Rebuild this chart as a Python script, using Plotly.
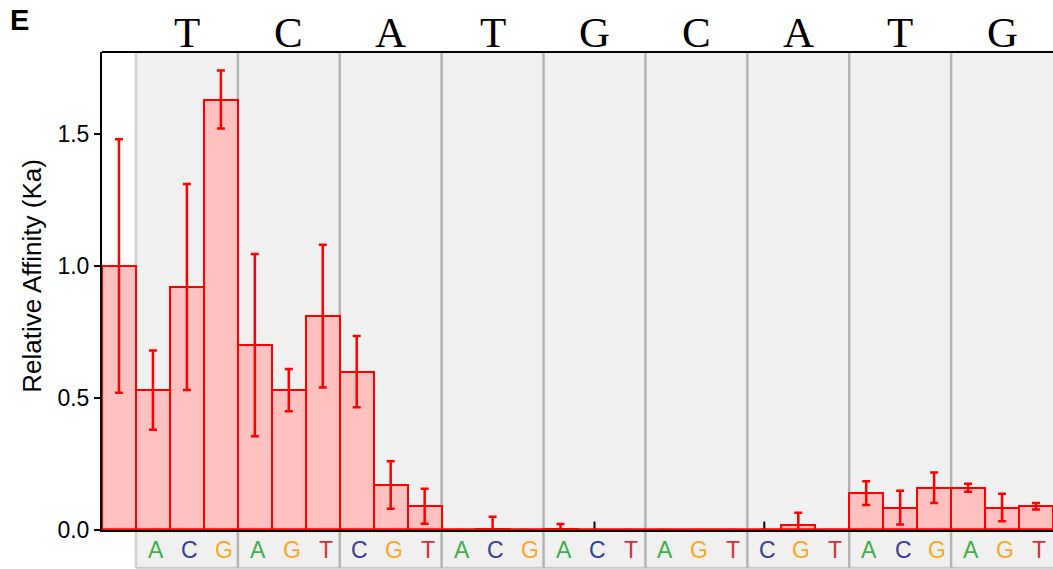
import plotly.graph_objects as go

# Wild-type sequence positions and the three substitutions tested at each
wt_bases = ["T", "C", "A", "T", "G", "C", "A", "T", "G"]
sub_bases = [
    ["A", "C", "G"], ["A", "G", "T"], ["C", "G", "T"],
    ["A", "C", "G"], ["A", "C", "T"], ["A", "G", "T"],
    ["C", "G", "T"], ["A", "C", "G"], ["A", "G", "T"],
]

# Relative affinity (Ka): wild type first, then each substitution in order
affinity = [1.00,
            0.53, 0.92, 1.63,
            0.70, 0.53, 0.81,
            0.60, 0.17, 0.09,
            0.00, 0.005, 0.00,
            0.003, 0.00, 0.00,
            0.00, 0.00, 0.00,
            0.00, 0.02, 0.00,
            0.14, 0.085, 0.16,
            0.16, 0.085, 0.09]
affinity_err = [0.48,
                0.15, 0.39, 0.11,
                0.345, 0.08, 0.27,
                0.135, 0.09, 0.066,
                0.00, 0.045, 0.00,
                0.02, 0.00, 0.00,
                0.00, 0.00, 0.00,
                0.00, 0.045, 0.00,
                0.045, 0.064, 0.058,
                0.015, 0.052, 0.012]
# Substitutions whose affinity could not be determined
not_determined = [14, 19]

base_colors = {"A": "#3fae49", "C": "#343f98", "G": "#f7a823", "T": "#d3303a"}

n_bars = len(affinity)
x_pos = list(range(n_bars))
y_max = 1.81

fig = go.Figure()

fig.add_trace(go.Bar(
    x=x_pos, y=affinity, width=1.0,
    marker=dict(color="#ffc0c0", line=dict(color="#ff0000", width=2)),
    error_y=dict(type="data", array=affinity_err, visible=True,
                 color="#ff0000", thickness=2.5, width=4),
    showlegend=False, hoverinfo="skip",
))

# Small black ticks marking undetermined values
nd_x, nd_y = [], []
for i in not_determined:
    nd_x += [i, i, None]
    nd_y += [0, 0.032, None]
fig.add_trace(go.Scatter(x=nd_x, y=nd_y, mode="lines",
                         line=dict(color="black", width=2),
                         showlegend=False, hoverinfo="skip"))

shapes = []
bottom_ext = -0.079
# Grey panel behind the substitution groups, extending under the letters
shapes.append(dict(type="rect", xref="x", yref="paper",
                   x0=0.5, x1=n_bars - 0.5, y0=bottom_ext, y1=1,
                   fillcolor="#f0f0f0", line=dict(width=0), layer="below"))
shapes.append(dict(type="line", xref="x", yref="paper",
                   x0=0.5, x1=n_bars - 0.5, y0=bottom_ext, y1=bottom_ext,
                   line=dict(color="#c8c8c8", width=2), layer="below"))
for g in range(len(wt_bases)):
    xb = 0.5 + 3 * g
    shapes.append(dict(type="line", xref="x", yref="paper",
                       x0=xb, x1=xb, y0=bottom_ext, y1=1,
                       line=dict(color="#d0d0d0" if g == 0 else "#b4b4b4", width=2.5),
                       layer="below"))
# Red baseline along the bar bottoms
shapes.append(dict(type="line", xref="x", yref="y",
                   x0=-0.5, x1=n_bars - 0.5, y0=0.003, y1=0.003,
                   line=dict(color="#ff0000", width=2), layer="above"))

annotations = []
for g, base in enumerate(wt_bases):
    annotations.append(dict(
        x=2 + 3 * g, y=1.0418, xref="x", yref="paper", text=base,
        showarrow=False, xanchor="center", yanchor="middle",
        font=dict(family="Liberation Serif, serif", size=43, color="black")))
    for k, sb in enumerate(sub_bases[g]):
        annotations.append(dict(
            x=1 + 3 * g + k, y=-0.041, xref="x", yref="paper", text=sb,
            showarrow=False, xanchor="center", yanchor="middle", xshift=3,
            font=dict(family="Arial, Liberation Sans, sans-serif", size=23,
                      color=base_colors[sb])))
annotations.append(dict(
    x=-0.099, y=1.066, xref="paper", yref="paper", text="<b>E</b>",
    showarrow=False, xanchor="left", yanchor="middle",
    font=dict(family="Arial, Liberation Sans, sans-serif", size=29, color="black")))
# Y-axis title
annotations.append(dict(
    x=-0.073, y=0.531, xref="paper", yref="paper", text="Relative Affinity (Ka)",
    showarrow=False, xanchor="center", yanchor="middle", textangle=-90,
    font=dict(family="Arial, Liberation Sans, sans-serif", size=26, color="black")))

fig.update_layout(
    width=1053, height=569,
    margin=dict(l=102, r=0, t=52, b=39),
    paper_bgcolor="white", plot_bgcolor="rgba(0,0,0,0)",
    shapes=shapes, annotations=annotations,
    bargap=0,
    font=dict(family="Arial, Liberation Sans, sans-serif", color="black"),
    xaxis=dict(range=[-0.5, n_bars - 0.5], showgrid=False, zeroline=False,
               showticklabels=False, ticks="", showline=True,
               linecolor="black", linewidth=2, mirror=False),
    yaxis=dict(range=[0, y_max], showgrid=False, zeroline=False,
               tickvals=[0, 0.5, 1.0, 1.5], ticktext=["0.0", "0.5", "1.0", "1.5"],
               ticks="outside", ticklen=6, tickwidth=2, tickcolor="black",
               tickfont=dict(size=23, color="black"),
               showline=True, linecolor="black", linewidth=2),
)
# Top frame line
fig.add_shape(type="line", xref="paper", yref="paper", x0=0, x1=1, y0=1, y1=1,
              line=dict(color="black", width=2))

fig.write_html("out.html")
